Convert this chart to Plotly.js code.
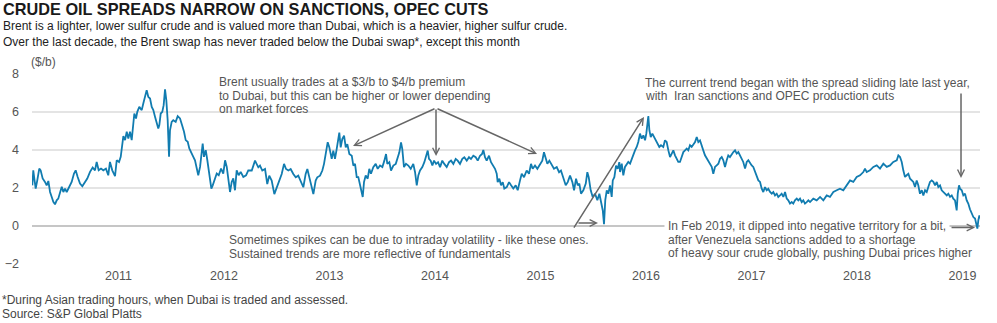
<!DOCTYPE html>
<html>
<head>
<meta charset="utf-8">
<script src="https://cdn.plot.ly/plotly-3.0.1.min.js"></script>
<style>
  html, body { margin: 0; padding: 0; background: #ffffff; }
  #chart { width: 997px; height: 323px; }
</style>
</head>
<body>
<div id="chart"></div>
<script>
// Brent minus Dubai swap spread ($/b), x in decimal years
const years = [
2010.183,2010.192,2010.202,2010.215,2010.230,2010.249,2010.262,2010.281,2010.303,2010.319,
2010.335,2010.351,2010.367,2010.382,2010.398,2010.414,2010.429,2010.445,2010.462,2010.477,
2010.493,2010.509,2010.531,2010.556,2010.578,2010.594,2010.613,2010.635,2010.657,2010.682,
2010.704,2010.730,2010.755,2010.777,2010.793,2010.812,2010.834,2010.856,2010.881,2010.903,
2010.919,2010.941,2010.967,2010.983,2011.005,2011.021,2011.036,2011.046,2011.062,2011.078,
2011.093,2011.109,2011.125,2011.140,2011.150,2011.166,2011.178,2011.197,2011.220,2011.235,
2011.254,2011.267,2011.282,2011.299,2011.315,2011.330,2011.346,2011.362,2011.377,2011.387,
2011.400,2011.415,2011.428,2011.441,2011.453,2011.466,2011.479,2011.488,2011.504,2011.519,
2011.542,2011.561,2011.583,2011.602,2011.621,2011.637,2011.656,2011.671,2011.690,2011.709,
2011.725,2011.741,2011.756,2011.773,2011.789,2011.798,2011.810,2011.827,2011.842,2011.861,
2011.880,2011.893,2011.908,2011.931,2011.950,2011.972,2011.993,2012.010,2012.026,2012.045,
2012.057,2012.073,2012.088,2012.104,2012.120,2012.139,2012.158,2012.183,2012.209,2012.230,
2012.263,2012.294,2012.325,2012.341,2012.363,2012.389,2012.410,2012.429,2012.452,2012.477,
2012.500,2012.524,2012.547,2012.569,2012.588,2012.610,2012.632,2012.657,2012.680,2012.704,
2012.727,2012.752,2012.774,2012.790,2012.809,2012.831,2012.847,2012.869,2012.884,2012.910,
2012.932,2012.948,2012.964,2012.983,2012.998,2013.021,2013.036,2013.052,2013.068,2013.083,
2013.093,2013.106,2013.121,2013.138,2013.154,2013.169,2013.188,2013.211,2013.226,2013.242,
2013.258,2013.273,2013.289,2013.305,2013.315,2013.327,2013.343,2013.362,2013.377,2013.393,
2013.415,2013.438,2013.457,2013.479,2013.501,2013.520,2013.536,2013.548,2013.567,2013.583,
2013.605,2013.628,2013.647,2013.662,2013.678,2013.690,2013.706,2013.725,2013.747,2013.770,
2013.794,2013.811,2013.827,2013.842,2013.858,2013.880,2013.899,2013.915,2013.931,2013.943,
2013.959,2013.975,2013.991,2014.010,2014.029,2014.048,2014.069,2014.088,2014.111,2014.133,
2014.152,2014.174,2014.196,2014.215,2014.237,2014.259,2014.278,2014.301,2014.322,2014.341,
2014.363,2014.386,2014.405,2014.427,2014.446,2014.458,2014.474,2014.490,2014.512,2014.531,
2014.553,2014.569,2014.585,2014.594,2014.610,2014.626,2014.642,2014.657,2014.680,2014.702,
2014.721,2014.742,2014.765,2014.784,2014.806,2014.822,2014.844,2014.869,2014.891,2014.910,
2014.926,2014.948,2014.970,2014.995,2015.017,2015.033,2015.049,2015.065,2015.084,2015.106,
2015.128,2015.154,2015.176,2015.194,2015.216,2015.239,2015.258,2015.280,2015.302,2015.318,
2015.337,2015.353,2015.368,2015.384,2015.406,2015.429,2015.444,2015.457,2015.476,2015.495,
2015.517,2015.539,2015.558,2015.574,2015.590,2015.602,2015.614,2015.628,2015.643,2015.659,
2015.675,2015.685,2015.700,2015.716,2015.732,2015.747,2015.754,2015.770,2015.785,2015.801,
2015.817,2015.832,2015.849,2015.865,2015.880,2015.896,2015.912,2015.927,2015.943,2015.959,
2015.975,2015.991,2016.003,2016.016,2016.022,2016.032,2016.045,2016.060,2016.079,2016.095,
2016.111,2016.126,2016.142,2016.164,2016.180,2016.196,2016.212,2016.228,2016.244,2016.259,
2016.275,2016.291,2016.306,2016.322,2016.339,2016.354,2016.370,2016.386,2016.401,2016.417,
2016.433,2016.449,2016.465,2016.481,2016.496,2016.512,2016.528,2016.543,2016.559,2016.576,
2016.591,2016.607,2016.623,2016.638,2016.654,2016.670,2016.686,2016.702,2016.718,2016.733,
2016.749,2016.765,2016.780,2016.796,2016.813,2016.828,2016.844,2016.860,2016.875,2016.891,
2016.907,2016.922,2016.939,2016.955,2016.970,2016.986,2017.002,2017.017,2017.033,2017.050,
2017.065,2017.081,2017.097,2017.112,2017.128,2017.144,2017.159,2017.176,2017.192,2017.207,
2017.223,2017.239,2017.254,2017.270,2017.286,2017.302,2017.318,2017.334,2017.349,2017.365,
2017.381,2017.396,2017.412,2017.429,2017.444,2017.460,2017.476,2017.491,2017.507,2017.523,
2017.539,2017.555,2017.586,2017.618,2017.650,2017.681,2017.713,2017.744,2017.776,2017.808,
2017.839,2017.870,2017.903,2017.934,2017.965,2017.997,2018.029,2018.060,2018.076,2018.092,
2018.123,2018.155,2018.187,2018.218,2018.250,2018.282,2018.313,2018.344,2018.377,2018.392,
2018.408,2018.424,2018.439,2018.455,2018.471,2018.487,2018.503,2018.534,2018.550,2018.566,
2018.581,2018.597,2018.614,2018.629,2018.645,2018.661,2018.676,2018.692,2018.708,2018.724,
2018.740,2018.756,2018.771,2018.787,2018.803,2018.818,2018.834,2018.851,2018.866,2018.882,
2018.898,2018.913,2018.929,2018.945,2018.955,2018.967,2018.977,2018.993,2019.008,2019.024,
2019.040,2019.055,2019.071,2019.087,2019.103,2019.119,2019.135,2019.141,2019.150,2019.160,
2019.166
];
const spread = [
2.14,2.93,2.5,1.97,2.4,3.02,2.93,2.5,2.32,2.14,
2.37,1.79,1.53,1.27,1.14,1.35,1.44,1.7,2.06,1.79,
1.97,1.79,2.06,2.32,2.76,2.93,2.58,2.23,2.09,2.32,
2.5,2.85,3.08,2.93,3.37,2.93,3.02,2.93,3.02,2.67,
3.37,2.93,2.62,3.46,3.37,3.64,4.17,4.73,4.52,4.96,
4.6,4.96,4.52,5.22,5.92,5.66,6.01,6.27,6.1,6.45,
6.8,7.15,6.8,6.71,6.27,6.1,5.75,5.48,5.13,5.31,
5.92,6.01,6.36,7.19,6.63,5.57,3.64,5.04,5.48,5.57,
5.48,5.78,5.66,5.31,4.96,4.52,4.43,4.08,3.81,3.64,
3.46,3.02,2.67,3.11,3.73,4.34,3.64,3.99,3.46,2.76,
1.97,2.14,2.41,2.76,2.67,3.02,2.76,3.46,3.11,2.23,
1.79,2.32,2.5,1.88,2.93,2.67,2.85,2.58,2.67,2.93,
2.92,3.44,3.09,3.18,2.92,3.0,2.21,2.65,2.39,1.68,
2.04,2.39,2.74,3.27,3.0,2.92,3.0,2.74,2.56,2.65,
2.39,2.04,2.74,3.0,2.56,2.12,1.68,2.39,2.56,2.65,
2.92,3.27,3.71,4.41,4.15,3.53,3.97,3.53,4.05,4.66,
4.92,4.14,4.57,4.75,4.14,4.31,3.79,3.70,3.18,3.27,
2.57,2.57,2.23,1.88,1.53,2.31,2.66,2.49,3.01,2.75,
3.1,3.27,3.01,3.18,3.1,3.44,3.79,3.27,3.36,2.92,
3.18,3.27,3.62,3.88,4.4,4.05,3.1,3.27,3.18,3.01,
3.27,2.83,2.14,2.66,2.92,3.1,3.36,3.7,3.97,3.53,
3.44,3.18,3.44,3.27,3.36,3.1,3.44,3.27,3.1,3.36,
3.44,3.27,3.53,3.44,3.27,3.53,3.62,3.44,3.62,3.53,
3.7,3.62,3.44,3.7,3.79,4.0,3.62,3.44,3.7,3.36,
3.18,3.01,2.75,2.31,2.49,2.14,2.31,1.97,2.05,2.31,
2.14,1.97,2.14,1.88,2.4,2.75,2.57,2.92,2.75,3.27,
3.01,3.18,3.01,3.27,3.44,3.88,3.53,3.27,3.44,3.18,
3.01,3.1,2.83,2.92,2.57,2.14,2.31,2.66,2.31,1.88,
2.49,2.14,2.23,1.7,1.88,2.23,2.83,2.57,1.88,1.53,
1.7,1.36,1.7,1.18,0.83,0.10,1.36,1.88,1.7,2.14,
1.53,2.4,2.57,3.18,3.01,3.36,2.84,3.28,2.67,3.11,
3.28,3.37,3.28,3.54,3.81,3.98,4.16,4.42,4.86,4.6,
4.77,4.51,4.86,5.39,5.79,5.04,4.68,4.86,4.68,4.51,
4.33,4.16,4.25,4.16,4.51,4.42,3.98,3.63,3.81,3.98,
3.72,3.54,3.37,3.37,3.63,3.89,3.98,4.07,3.98,4.25,
4.16,4.33,4.42,4.68,4.42,4.51,4.16,3.98,3.72,3.54,
3.46,3.28,3.11,2.75,3.11,3.19,3.28,3.54,3.63,3.46,
3.11,3.46,3.72,3.63,3.81,3.89,3.98,3.81,3.89,3.72,
3.54,3.37,3.02,3.37,3.46,3.28,3.19,3.11,2.84,2.58,
2.4,2.32,1.96,1.79,2.05,1.88,1.96,1.79,1.7,1.79,
1.61,1.7,1.53,1.61,1.7,1.53,1.79,1.44,1.35,1.18,
1.26,1.18,1.35,1.44,1.35,1.44,1.26,1.35,1.18,1.26,
1.35,1.26,1.44,1.35,1.53,1.35,1.61,1.53,1.79,1.88,
1.96,1.88,2.14,2.4,2.32,2.58,2.67,2.84,3.02,2.84,
2.93,3.11,3.19,3.02,3.28,3.11,3.19,3.37,3.46,3.72,
3.63,3.37,2.93,2.58,2.67,2.75,2.49,2.32,2.05,2.4,
2.14,1.7,1.88,1.61,1.88,1.79,2.05,2.32,2.4,2.32,
2.14,2.32,2.05,2.14,1.88,1.79,1.7,1.61,1.7,1.53,
1.61,1.44,1.35,0.82,1.7,2.14,1.96,1.88,1.61,1.7,
1.35,1.18,0.88,0.65,0.47,0.39,0.04,-0.14,0.3,0.56,
0.39
];
const tickYears = [2011, 2012, 2013, 2014, 2015, 2016, 2017, 2018, 2019];
const tickLabels = ["2011", "2012", "2013", "2014", "2015", "2016", "2017", "2018", "2019"];
const yTicks = [-2, 0, 2, 4, 6, 8];

const NARROW = "'Liberation Sans Narrow', 'Arial Narrow', sans-serif";
const REG = "'Liberation Sans', Arial, sans-serif";
const GRAY = "#555555";

function txt(text, px, py, size, color, fam, extra) {
  return Object.assign({
    text: text, xref: 'paper', yref: 'paper',
    x: (px - 32) / 948, y: (264 - py) / 190,
    xanchor: 'left', yanchor: 'middle', showarrow: false, borderpad: 0,
    font: {family: fam, size: size, color: color}
  }, extra || {});
}
function arrow(ax, ay, x, y) {
  return {
    text: '', xref: 'x', yref: 'y', axref: 'x', ayref: 'y',
    x: x, y: y, ax: ax, ay: ay, showarrow: true,
    arrowhead: 5, arrowsize: 0.9, arrowwidth: 1.5, arrowcolor: '#666666',
    standoff: 0, startstandoff: 0
  };
}

const annotations = [
  txt('<b>CRUDE OIL SPREADS NARROW ON SANCTIONS, OPEC CUTS</b>', 2, 8.7, 16.3, '#1a1a1a', NARROW),
  txt('Brent is a lighter, lower sulfur crude and is valued more than Dubai, which is a heavier, higher sulfur crude.', 2, 26.3, 12, '#222222', NARROW),
  txt('Over the last decade, the Brent swap has never traded below the Dubai swap*, except this month', 2, 42.3, 12, '#222222', NARROW),
  txt('($/b)', 30, 62, 12, GRAY, REG),
  txt('Brent usually trades at a $3/b to $4/b premium', 218, 82, 12, GRAY, REG),
  txt('to Dubai, but this can be higher or lower depending', 218, 95.5, 12, GRAY, REG),
  txt('on market forces', 218, 109, 12, GRAY, REG),
  txt('The current trend began with the spread sliding late last year,', 644, 82.5, 12, GRAY, REG),
  txt('with  Iran sanctions and OPEC production cuts', 644, 96, 12, GRAY, REG),
  txt('Sometimes spikes can be due to intraday volatility - like these ones.', 228, 240, 12, GRAY, REG),
  txt('Sustained trends are more reflective of fundamentals', 228, 253.5, 12, GRAY, REG),
  txt('In Feb 2019, it dipped into negative territory for a bit,', 664, 226, 12, GRAY, REG, {bgcolor: '#ffffff', borderpad: 3}),
  txt('after Venezuela sanctions added to a shortage', 667, 239.5, 12, GRAY, REG),
  txt('of heavy sour crude globally, pushing Dubai prices higher', 667, 253, 12, GRAY, REG),
  txt('*During Asian trading hours, when Dubai is traded and assessed.', 1, 300.2, 12, '#444444', REG),
  txt('Source: S&amp;P Global Platts', 1, 313.8, 12, '#444444', REG),
  arrow(2014.0095, 6.21, 2013.223, 4.21),
  arrow(2014.0095, 6.21, 2014.010, 3.68),
  arrow(2014.0095, 6.21, 2014.967, 3.79),
  arrow(2018.986, 7.05, 2018.986, 2.53),
  arrow(2015.308, -0.16, 2015.981, 5.74),
  arrow(2015.346, 0.16, 2015.545, 0.16),
  arrow(2018.882, -0.08, 2019.119, -0.08)
];

const shapes = [
  {type: 'rect', xref: 'paper', yref: 'paper', layer: 'between',
   x0: (213 - 32) / 948, x1: (490 - 32) / 948, y0: (264 - 116) / 190, y1: (264 - 76) / 190,
   fillcolor: '#ffffff', line: {width: 0}}
];

const trace = {
  type: 'scatter', mode: 'lines', x: years, y: spread,
  line: {color: '#117cb0', width: 1.8}, hoverinfo: 'x+y'
};

const layout = {
  width: 997, height: 323,
  margin: {l: 32, r: 17, t: 74, b: 59, pad: 0},
  paper_bgcolor: '#ffffff', plot_bgcolor: '#ffffff',
  showlegend: false,
  font: {family: REG, color: GRAY},
  xaxis: {
    range: [2010.18, 2019.166], tickvals: tickYears, ticktext: tickLabels,
    showgrid: false, zeroline: false, showline: false, ticks: '',
    tickfont: {family: REG, size: 12.5, color: '#555555'}, ticklabelstandoff: 2
  },
  yaxis: {
    range: [-2, 8], tickvals: yTicks, showgrid: true, gridcolor: '#e4e4e4', gridwidth: 1.5,
    zeroline: true, zerolinecolor: '#c6c6c6', zerolinewidth: 2,
    showline: false, ticks: '', ticklabelstandoff: 12,
    tickfont: {family: REG, size: 12.5, color: '#555555'}
  },
  annotations: annotations,
  shapes: shapes
};

Plotly.newPlot('chart', [trace], layout, {displayModeBar: false, staticPlot: true});
</script>
</body>
</html>
